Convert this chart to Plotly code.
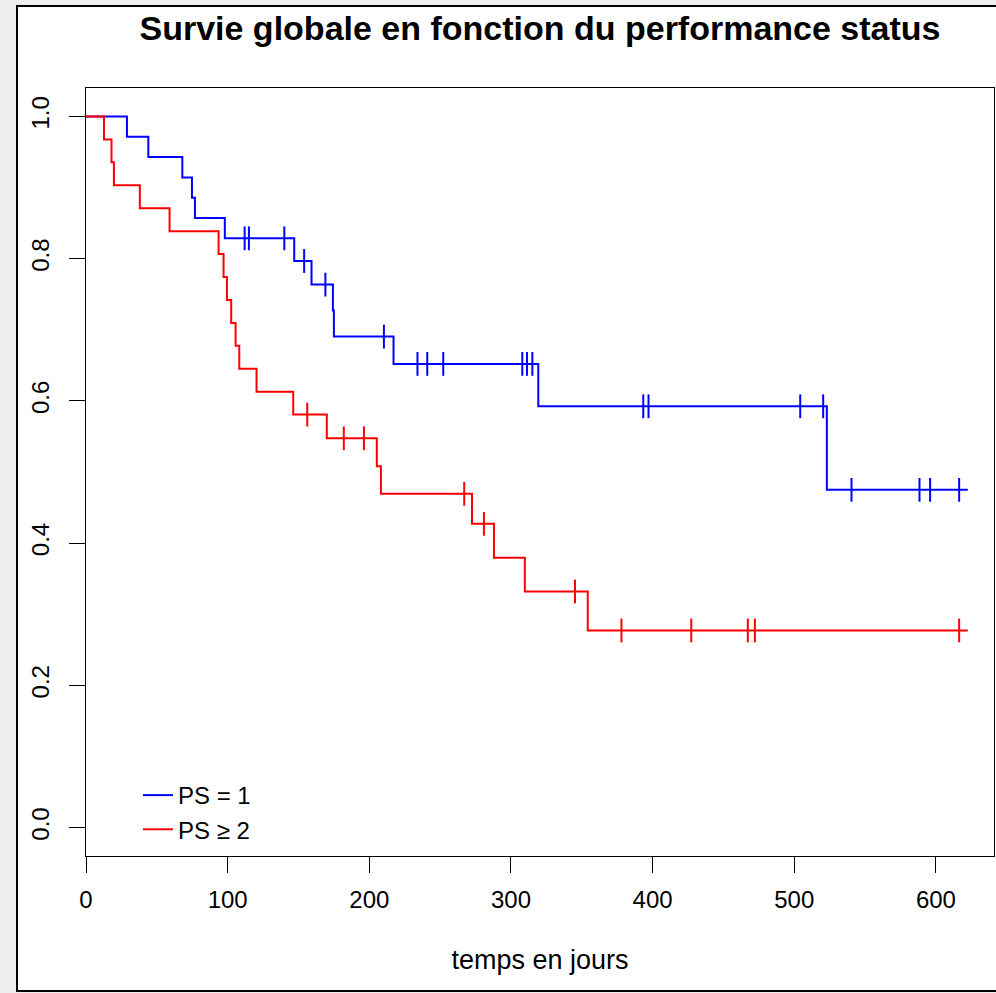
import numpy as np
import plotly.graph_objects as go

# ---- data ----
# PS = 1 : step times (days) and survival level after each step
ps1_times = [0, 28.9, 44, 68, 74.8, 76.9, 98, 147, 159.2, 174.3, 175, 217.1, 319.3, 523]
ps1_surv = [1.0, 0.9714, 0.9429, 0.9143, 0.8857, 0.8571, 0.8286, 0.7967, 0.7635,
            0.7270, 0.6904, 0.6520, 0.5924, 0.4749]
ps1_end = 622.5
ps1_censor = [112, 115, 140, 154, 169, 210.3, 234, 240.9, 252.2, 308, 311.3, 315.1,
              393.4, 397.1, 504.2, 520.4, 540.4, 588.4, 595.9, 616.4]

# PS >= 2
ps2_times = [0, 12.7, 18, 19.7, 38, 59, 93.6, 97.1, 99.5, 102.5, 105.6, 108.2, 120.4,
             146.3, 170, 205.3, 208.2, 272.5, 288, 309.8, 354.2]
ps2_surv = [1.0, 0.9677, 0.9355, 0.9032, 0.8710, 0.8387, 0.8065, 0.7742, 0.7419,
            0.7097, 0.6774, 0.6452, 0.6129, 0.5807, 0.5474, 0.5080, 0.4693, 0.4271,
            0.3793, 0.3320, 0.2772]
ps2_end = 622.5
ps2_censor = [156.2, 182, 196.2, 267, 280.9, 345.2, 378, 427.3, 467.2, 472.2, 616.4]

x_ticks = [0, 100, 200, 300, 400, 500, 600]
y_ticks = [0.0, 0.2, 0.4, 0.6, 0.8, 1.0]
y_tick_labels = ["0.0", "0.2", "0.4", "0.6", "0.8", "1.0"]

title_text = "Survie globale en fonction du performance status"
x_title = "temps en jours"
names = ["PS = 1", "PS \u2265 2"]
colors = ["#0000FF", "#FF0000"]

FONT = "Liberation Sans, Arial, Helvetica, sans-serif"


def level_at(times, surv, t):
    idx = np.searchsorted(np.array(times), t, side="right") - 1
    return [surv[i] for i in idx]


fig = go.Figure()
groups = [(ps1_times, ps1_surv, ps1_end, ps1_censor),
          (ps2_times, ps2_surv, ps2_end, ps2_censor)]
for (times, surv, end, cens), name, col in zip(groups, names, colors):
    fig.add_trace(go.Scatter(
        x=list(times) + [end], y=list(surv) + [surv[-1]],
        mode="lines", line=dict(color=col, width=2, shape="hv"),
        name=name, legendgroup=name, hoverinfo="skip"))
    fig.add_trace(go.Scatter(
        x=cens, y=level_at(times, surv, cens), mode="markers",
        marker=dict(symbol="line-ns", size=17, color=col,
                    line=dict(color=col, width=2)),
        showlegend=False, legendgroup=name, hoverinfo="skip"))

W, H = 996, 993
L, R, T, B = 86, 2, 88, 137
pw, ph = W - L - R, H - T - B


def px_to_paper_x(px):
    return (px - L) / pw


def px_to_paper_y(py):
    return (H - B - py) / ph


# window frame of the screenshot
fig.add_shape(type="rect", xref="paper", yref="paper", layer="below",
              x0=px_to_paper_x(17), x1=px_to_paper_x(1010),
              y0=px_to_paper_y(991), y1=px_to_paper_y(6),
              fillcolor="white", line=dict(color="black", width=2))

fig.update_layout(
    width=W, height=H,
    margin=dict(l=L, r=R, t=T, b=B),
    paper_bgcolor="#efefef", plot_bgcolor="white",
    font=dict(family=FONT, size=24, color="black"),
    title=dict(text="<b>" + title_text + "</b>", x=540 / W, xanchor="center",
               y=1 - 28 / H, yanchor="middle", font=dict(size=34, family=FONT)),
    showlegend=True,
    legend=dict(x=px_to_paper_x(138), xanchor="left", y=px_to_paper_y(773), yanchor="top",
                bgcolor="rgba(0,0,0,0)", font=dict(size=24), tracegroupgap=0,
                itemwidth=30),
    xaxis=dict(range=[0, 641], tickvals=x_ticks, ticktext=[str(v) for v in x_ticks],
               ticks="outside", ticklen=16, tickwidth=1, tickcolor="black",
               showline=True, linecolor="black", linewidth=1, mirror=True,
               showgrid=False, zeroline=False, ticklabelstandoff=6,
               title=dict(text=x_title, standoff=38, font=dict(size=27))),
    yaxis=dict(range=[-0.04, 1.04], tickvals=y_ticks, ticktext=y_tick_labels,
               tickangle=-90, ticks="outside", ticklen=16, tickwidth=1, tickcolor="black",
               showline=True, linecolor="black", linewidth=1, mirror=True,
               showgrid=False, zeroline=False, ticklabelstandoff=10),
)

fig.write_html("out.html")
